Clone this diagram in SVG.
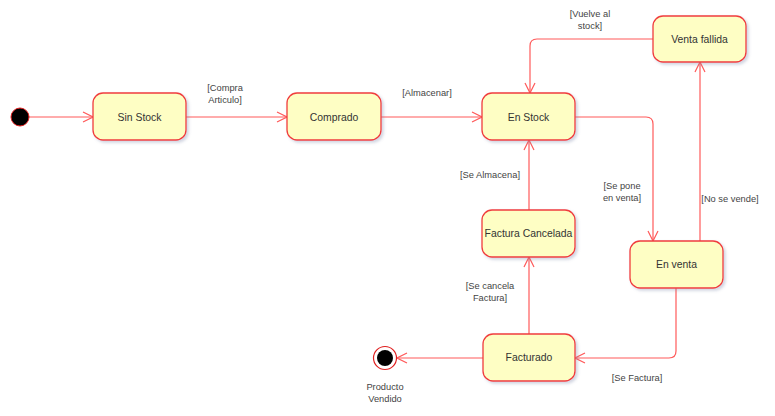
<svg xmlns="http://www.w3.org/2000/svg" width="775" height="416" viewBox="0 0 775 416">
  <style>
    .state rect { fill: #FEFEC4; stroke: #F03C3C; stroke-width: 1.3; filter: url(#shadow); }
    .state text { font-family: "Liberation Sans", Arial, sans-serif; font-size: 10.4px; fill: #333; text-anchor: middle; }
    .edge { fill: none; stroke: #FF5A5A; stroke-width: 1.2; marker-end: url(#arrow); }
    .lbl { font-family: "Liberation Sans", Arial, sans-serif; font-size: 9.3px; fill: #444; text-anchor: middle; }
  </style>
  <defs>
    <filter id="shadow" x="-20%" y="-20%" width="150%" height="160%">
      <feDropShadow dx="2" dy="2" stdDeviation="1.5" flood-color="#7A84A8" flood-opacity="0.35"/>
    </filter>
    <marker id="arrow" viewBox="0 0 12 12" refX="11" refY="6" markerWidth="12" markerHeight="12" markerUnits="userSpaceOnUse" orient="auto">
      <polyline points="1,1 11,6 1,11" fill="none" stroke="#FF5A5A" stroke-width="1.2"/>
    </marker>
  </defs>

  <rect width="775" height="416" fill="#FFFFFF"/>

  <!-- transitions -->
  <g id="connectors">
    <path class="edge" d="M29,117 H93"/>
    <path class="edge" d="M186,117 H287"/>
    <path class="edge" d="M381,117 H482"/>
    <path class="edge" d="M575,117 H646 Q653,117 653,124 V241"/>
    <path class="edge" d="M700,241 V62"/>
    <path class="edge" d="M653,39 H537 Q530,39 530,46 V93"/>
    <path class="edge" d="M676,288 V351 Q676,358 669,358 H575"/>
    <path class="edge" d="M529,334 V257"/>
    <path class="edge" d="M529,210 V140"/>
    <path class="edge" d="M483,358 H397"/>
  </g>

  <!-- transition labels -->
  <g id="labels">
    <text class="lbl" x="225" y="91">[Compra</text>
    <text class="lbl" x="225" y="103">Articulo]</text>
    <text class="lbl" x="427" y="96">[Almacenar]</text>
    <text class="lbl" x="590" y="17">[Vuelve al</text>
    <text class="lbl" x="590" y="29">stock]</text>
    <text class="lbl" x="490" y="178">[Se Almacena]</text>
    <text class="lbl" x="622" y="189">[Se pone</text>
    <text class="lbl" x="622" y="201">en venta]</text>
    <text class="lbl" x="730" y="202">[No se vende]</text>
    <text class="lbl" x="490" y="289">[Se cancela</text>
    <text class="lbl" x="490" y="301">Factura]</text>
    <text class="lbl" x="637" y="381">[Se Factura]</text>
  </g>

  <g id="initial">
    <circle cx="20" cy="117" r="9" fill="#000" stroke="#E02020" stroke-width="1"/>
  </g>

  <g id="sin-stock" class="state">
    <rect x="93" y="93" width="93" height="47" rx="10"/>
    <text x="139.5" y="121">Sin Stock</text>
  </g>
  <g id="comprado" class="state">
    <rect x="287" y="93" width="94" height="47" rx="10"/>
    <text x="334" y="121">Comprado</text>
  </g>
  <g id="en-stock" class="state">
    <rect x="482" y="93" width="93" height="47" rx="10"/>
    <text x="528.5" y="121">En Stock</text>
  </g>
  <g id="venta-fallida" class="state">
    <rect x="653" y="16" width="93" height="46" rx="10"/>
    <text x="699.5" y="43">Venta fallida</text>
  </g>
  <g id="factura-cancelada" class="state">
    <rect x="482" y="210" width="93" height="47" rx="10"/>
    <text x="528.5" y="237">Factura Cancelada</text>
  </g>
  <g id="en-venta" class="state">
    <rect x="630" y="241" width="93" height="47" rx="10"/>
    <text x="676.5" y="268">En venta</text>
  </g>
  <g id="facturado" class="state">
    <rect x="483" y="334" width="92" height="47" rx="10"/>
    <text x="529" y="361">Facturado</text>
  </g>

  <g id="final">
    <circle cx="385" cy="358" r="11.5" fill="#FFFFFF" stroke="#E02020" stroke-width="1.2"/>
    <circle cx="385" cy="358" r="8" fill="#000"/>
    <text class="lbl" x="385" y="390">Producto</text>
    <text class="lbl" x="385" y="402">Vendido</text>
  </g>
</svg>
